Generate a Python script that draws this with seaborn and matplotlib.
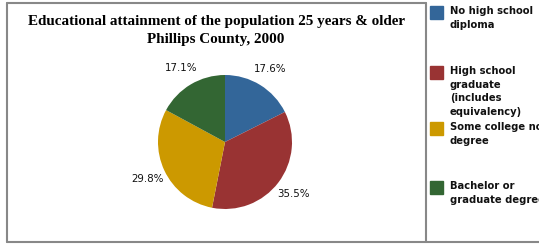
import matplotlib
matplotlib.use("Agg")
import matplotlib.pyplot as plt
import seaborn as sns
from matplotlib.lines import Line2D
from matplotlib.patches import Rectangle

categories = ["No high school\ndiploma",
              "High school\ngraduate\n(includes\nequivalency)",
              "Some college no\ndegree",
              "Bachelor or\ngraduate degree"]
shares = [17.6, 35.5, 29.8, 17.1]
colors = ["#336699", "#993333", "#cc9900", "#336633"]

sns.set_theme(style="white")
palette = sns.color_palette(colors)

W, H = 539, 244
fig = plt.figure(figsize=(W / 100, H / 100), dpi=100)
fig.patch.set_facecolor("white")

# frame lines (pixel coords -> figure coords)
def px(x, y):
    return x / W, 1 - y / H

frame = "#888888"
for (x0, y0), (x1, y1) in [((7, 3), (426, 3)), ((7, 3), (7, 242)),
                           ((426, 3), (426, 242)), ((7, 242), (539, 242))]:
    a, b = px(x0, y0)
    c, d = px(x1, y1)
    fig.add_artist(Line2D([a, c], [b, d], color=frame, lw=1.5, transform=fig.transFigure))

fig.text(px(216, 0)[0], px(0, 21)[1], "Educational attainment of the population 25 years & older",
         family="Liberation Serif", weight="bold", fontsize=10.9, ha="center", va="center",
         color="black")
fig.text(px(216, 0)[0], px(0, 39)[1], "Phillips County, 2000",
         family="Liberation Serif", weight="bold", fontsize=10.9, ha="center", va="center",
         color="black")

cx, cy, r = 225, 142, 67
ax = fig.add_axes([(cx - r) / W, (H - cy - r) / H, 2 * r / W, 2 * r / H])
ax.pie(shares, colors=palette, startangle=90, counterclock=False,
       autopct="%.1f%%", pctdistance=1.28,
       wedgeprops=dict(linewidth=0),
       textprops=dict(fontsize=7.4, family="DejaVu Sans", color="#111111"))
ax.set_aspect("equal")
ax.set_xlim(-1, 1)
ax.set_ylim(-1, 1)
ax.axis("off")

# legend (text is clipped at the right edge, as in the original)
sq_y = [6, 66, 122, 181]
for label, col, y in zip(categories, palette, sq_y):
    fx, fy = px(430, y + 13)
    fig.add_artist(Rectangle((fx, fy), 13 / W, 13 / H, color=col, transform=fig.transFigure))
    tx, ty = px(450, y)
    fig.text(tx, ty, label, fontsize=7.2, weight="bold", family="DejaVu Sans",
             ha="left", va="top", linespacing=1.45, color="#111111")

fig.savefig("out.png", dpi=100)
